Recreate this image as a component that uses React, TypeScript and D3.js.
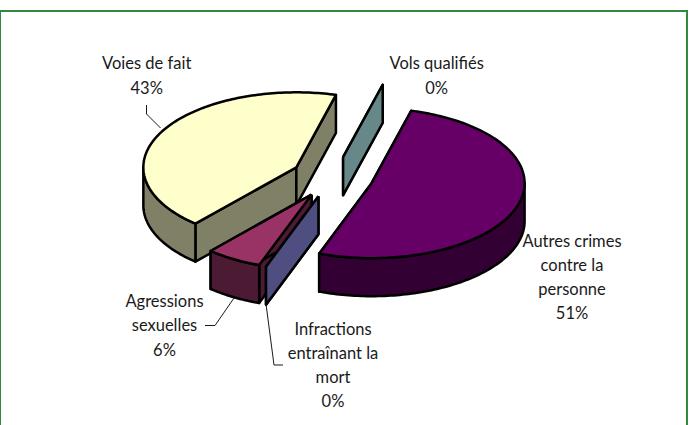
import React from 'react';
import * as d3 from 'd3';

// slices run clockwise from the top of the pie
const categories = ['Autres crimes contre la personne', 'Infractions entraînant la mort', 'Agressions sexuelles', 'Voies de fait', 'Vols qualifiés'];
const values = [51.4, 0, 5.9, 42.7, 0];
const percentLabels = ['51%', '0%', '6%', '43%', '0%'];
const topColors = ['#660066', '#4e4e80', '#993366', '#ffffcc', '#678888'];
const sideColors = ['#330033', '#4e4e80', '#4d1a33', '#808066', '#678888'];

const labelLines = [
  ['Autres crimes', 'contre la', 'personne', percentLabels[0]],
  ['Infractions', 'entraînant la', 'mort', percentLabels[1]],
  ['Agressions', 'sexuelles', percentLabels[2]],
  ['Voies de fait', percentLabels[3]],
  ['Vols qualifiés', percentLabels[4]],
];
const labelPos = [
  { x: 572, y: 246.5, lineH: 24.3 },
  { x: 333, y: 335, lineH: 24 },
  { x: 164.5, y: 307, lineH: 24.4 },
  { x: 146.7, y: 68.5, lineH: 25.5 },
  { x: 436.7, y: 68.5, lineH: 25.5 },
];
const leaders: [number, number][][] = [
  [],
  [[266, 304], [274, 365], [283, 365]],
  [[205, 325.5], [215, 325.5], [234, 298]],
  [[146.5, 105], [146.5, 114], [160.5, 128]],
  [],
];

export default function App() {
  const width = 692;
  const height = 425;
  const center = { x: 332.5, y: 177 };
  const rx = 153;
  const ry = 75;
  const depth = 38;
  const explode = 41;

  const startAngle = (15 * Math.PI) / 180;
  const arcs = d3.pie<number>().sort(null).startAngle(startAngle).endAngle(startAngle + 2 * Math.PI)(values);

  const line = d3.line<[number, number]>();

  const slices = arcs.map((a, i) => {
    const mid = (a.startAngle + a.endAngle) / 2;
    const cx = center.x + explode * Math.sin(mid);
    const cy = center.y - explode * 0.5 * Math.cos(mid);
    const pt = (t: number, dz = 0): [number, number] => [cx + rx * Math.sin(t), cy - ry * Math.cos(t) + dz];
    const sample = (t0: number, t1: number) => {
      const n = Math.max(1, Math.ceil(Math.abs(t1 - t0) / 0.02));
      return d3.range(n + 1).map(k => t0 + ((t1 - t0) * k) / n);
    };
    const apex: [number, number] = [cx, cy];
    const apexLow: [number, number] = [cx, cy + depth];

    const top = [apex, ...sample(a.startAngle, a.endAngle).map(t => pt(t)), apex];
    const cut = (t: number) => [apex, pt(t), pt(t, depth), apexLow, apex];

    // outer wall only shows on the front half of the ellipse
    const w0 = Math.max(a.startAngle, Math.PI / 2);
    const w1 = Math.min(a.endAngle, (3 * Math.PI) / 2);
    const wall = w1 > w0
      ? [...sample(w0, w1).map(t => pt(t)), ...sample(w1, w0).map(t => pt(t, depth))]
      : null;

    return { i, cy, top, wall, cuts: [cut(a.startAngle), cut(a.endAngle)], empty: a.endAngle - a.startAngle < 1e-6 };
  });

  const order = [...slices].sort((a, b) => d3.ascending(a.cy, b.cy));
  const edge = { stroke: '#000', strokeWidth: 2.5, strokeLinejoin: 'round' as const };

  return (
    <div style={{ position: 'absolute', left: 0, top: 0, width, height, overflow: 'hidden', background: '#fff' }}>
      <svg width={width} height={height} style={{ display: 'block' }}>
        <rect x={0} y={11} width={687} height={height} fill="#fff" stroke="#2f8a3e" strokeWidth={2} />

        {order.map(s => (
          <g key={categories[s.i]}>
            {s.cuts.map((c, k) => (
              <path key={k} d={line(c as [number, number][]) ?? ''} fill={sideColors[s.i]} {...edge} />
            ))}
            {s.wall && <path d={(line(s.wall) ?? '') + 'Z'} fill={sideColors[s.i]} {...edge} />}
            {!s.empty && <path d={line(s.top) ?? ''} fill={topColors[s.i]} {...edge} />}
          </g>
        ))}

        {leaders.map((pts, i) => pts.length > 0 && (
          <path key={i} d={line(pts) ?? ''} fill="none" stroke="#1a1a1a" strokeWidth={1} />
        ))}

        {labelLines.map((lines, i) => (
          <text key={i} textAnchor="middle" fontFamily="Lato, 'Open Sans', sans-serif" fontSize={16.5} fill="#1a1a1a">
            {lines.map((t, k) => (
              <tspan key={k} x={labelPos[i].x} y={labelPos[i].y + k * labelPos[i].lineH}>{t}</tspan>
            ))}
          </text>
        ))}
      </svg>
    </div>
  );
}
